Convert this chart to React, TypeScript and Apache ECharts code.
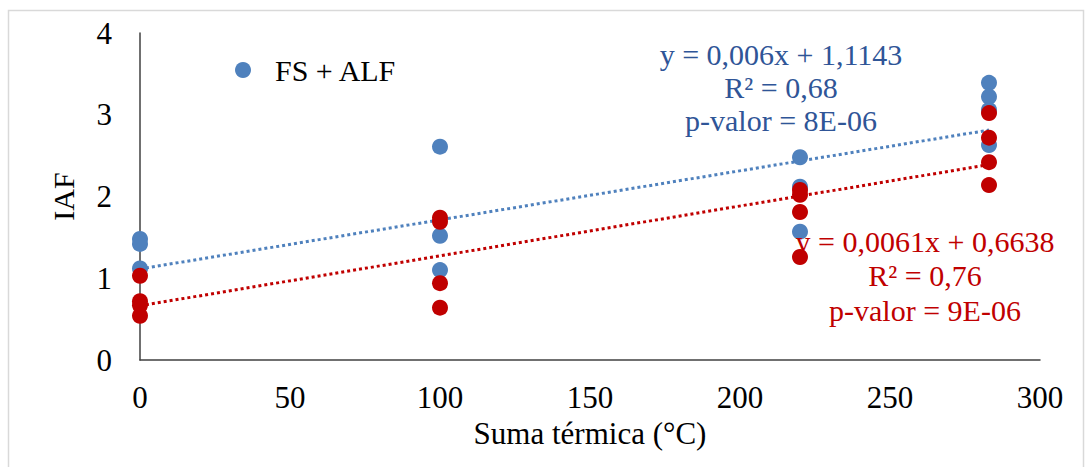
import React, { useEffect, useRef } from "react";
import * as echarts from "echarts";

const xTicks = [0, 50, 100, 150, 200, 250, 300];
const blueX = [0, 0, 0, 100, 100, 100, 220, 220, 220, 283, 283, 283, 283];
const blueY = [1.48, 1.42, 1.12, 2.61, 1.52, 1.1, 2.48, 2.12, 1.57, 3.39, 3.22, 3.06, 2.63];
const redX = [0, 0, 0, 0, 100, 100, 100, 100, 220, 220, 220, 220, 283, 283, 283, 283];
const redY = [1.03, 0.72, 0.67, 0.54, 1.74, 1.69, 0.94, 0.64, 2.08, 2.02, 1.81, 1.26, 3.02, 2.72, 2.42, 2.14];
const blueFit = { slope: 0.006, intercept: 1.1143 };
const redFit = { slope: 0.0061, intercept: 0.6638 };
const fitRange = [0, 283];
const blueText = ["y = 0,006x + 1,1143", "R² = 0,68", "p-valor = 8E-06"];
const redText = ["y = 0,0061x + 0,6638", "R² = 0,76", "p-valor = 9E-06"];

const BLUE = "#4F81BD";
const RED = "#C00000";
const FONT = "Liberation Serif";

export default function App() {
  const ref = useRef<HTMLDivElement>(null);
  useEffect(() => {
    const chart = echarts.init(ref.current!, undefined, { renderer: "svg" });
    const pts = (xs: number[], ys: number[]) => xs.map((x, i) => [x, ys[i]]);
    const fit = (f: { slope: number; intercept: number }) =>
      fitRange.map((x) => [x, f.slope * x + f.intercept]);
    chart.setOption({
      animation: false,
      backgroundColor: "#fff",
      textStyle: { fontFamily: FONT },
      grid: { left: 140, right: 51, top: 33, bottom: 107 },
      legend: {
        data: ["FS + ALF"],
        left: 230,
        top: 50,
        itemWidth: 16,
        itemHeight: 16,
        icon: "circle",
        textStyle: { fontFamily: FONT, fontSize: 30, color: "#000", padding: [0, 0, 0, 19] },
      },
      xAxis: {
        type: "value",
        min: 0,
        max: 300,
        interval: 50,
        name: "Suma térmica (°C)",
        nameLocation: "middle",
        nameGap: 52,
        nameTextStyle: { fontFamily: FONT, fontSize: 31, color: "#000" },
        axisLine: { show: true, lineStyle: { color: "#404040", width: 1.5 } },
        axisTick: { show: false },
        splitLine: { show: false },
        axisLabel: { fontFamily: FONT, fontSize: 31, color: "#000", margin: 22, formatter: (v: number) => (xTicks.includes(v) ? String(v) : "") },
      },
      yAxis: {
        type: "value",
        min: 0,
        max: 4,
        interval: 1,
        name: "IAF",
        nameLocation: "middle",
        nameGap: 62,
        nameRotate: 90,
        nameTextStyle: { fontFamily: FONT, fontSize: 30, color: "#000" },
        axisLine: { show: true, lineStyle: { color: "#404040", width: 1.5 } },
        axisTick: { show: false },
        splitLine: { show: false },
        axisLabel: { fontFamily: FONT, fontSize: 31, color: "#000", margin: 28 },
      },
      series: [
        {
          name: "trend-blue",
          type: "line",
          data: fit(blueFit),
          symbol: "none",
          lineStyle: { color: BLUE, type: "dotted", width: 3 },
          z: 1,
        },
        {
          name: "trend-red",
          type: "line",
          data: fit(redFit),
          symbol: "none",
          lineStyle: { color: RED, type: "dotted", width: 3 },
          z: 1,
        },
        {
          name: "FS + ALF",
          type: "scatter",
          data: pts(blueX, blueY),
          symbolSize: 16,
          itemStyle: { color: BLUE, opacity: 1 },
          z: 2,
        },
        {
          name: "red",
          type: "scatter",
          data: pts(redX, redY),
          symbolSize: 16,
          itemStyle: { color: RED, opacity: 1 },
          z: 3,
        },
      ],
      graphic: [
        {
          type: "rect",
          shape: { x: 8.5, y: 10.5, width: 1075, height: 470 },
          style: { fill: "none", stroke: "#D9D9D9", lineWidth: 1.5 },
          z: 0,
        },
        ...blueText.map((t, i) => ({
          type: "text",
          x: 781,
          y: 54 + i * 33,
          style: { text: t, fill: "#2F5597", font: `30px "${FONT}"`, textAlign: "center", textVerticalAlign: "middle" },
          z: 10,
        })),
        ...redText.map((t, i) => ({
          type: "text",
          x: 925,
          y: 241 + i * 34.5,
          style: { text: t, fill: RED, font: `30px "${FONT}"`, textAlign: "center", textVerticalAlign: "middle" },
          z: 10,
        })),
      ],
    });
    return () => chart.dispose();
  }, []);
  return <div ref={ref} style={{ width: 1091, height: 467, position: "absolute", left: 0, top: 0 }} />;
}
